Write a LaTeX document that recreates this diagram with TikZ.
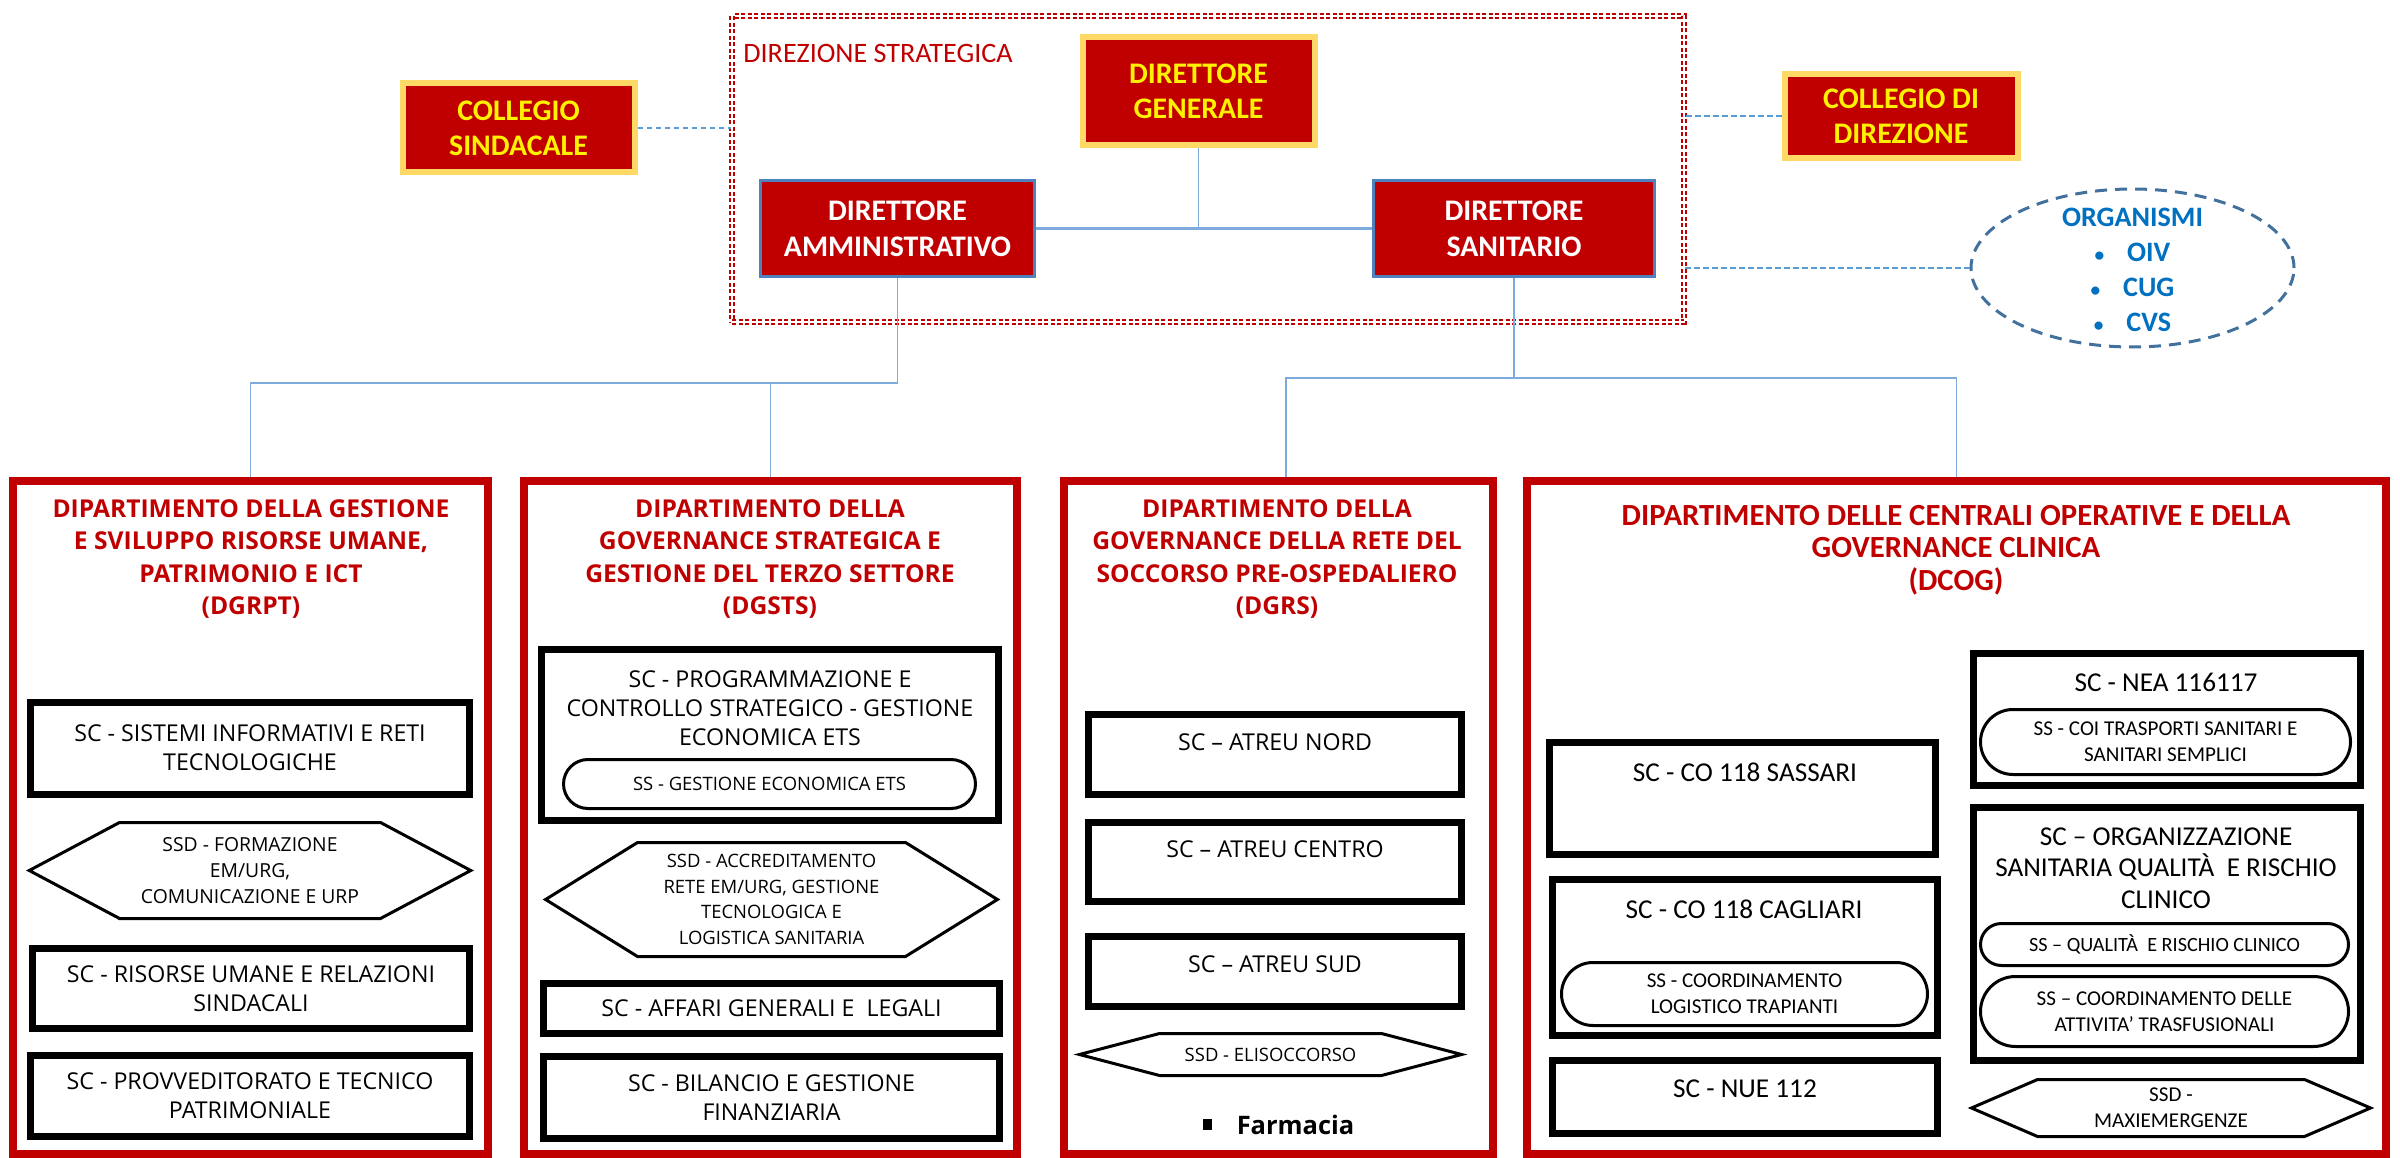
\documentclass[tikz,border=0pt]{standalone}
\usepackage{fontspec}
\setmainfont{Open Sans}
\newfontfamily\calibri{Carlito}
\usepackage{tikz}
\usetikzlibrary{fit,shapes.geometric,shapes.symbols,shapes.misc}

\definecolor{deepred}{HTML}{C00000}
\definecolor{goldframe}{HTML}{FFD966}
\definecolor{dirblue}{HTML}{4F81BD}
\definecolor{linkblue}{HTML}{7FAADC}
\definecolor{dashblue}{HTML}{5B9BD5}
\definecolor{orgline}{HTML}{41719C}
\definecolor{orgtext}{HTML}{0070C0}

\tikzset{
  topbox/.style={fill=deepred, draw=goldframe, line width=1.2mm, inner sep=0pt, align=center, text=yellow,
    font=\calibri\bfseries\fontsize{17}{20}\selectfont},
  dirbox/.style={fill=deepred, draw=dirblue, line width=0.6mm, inner sep=0pt, align=center, text=white,
    font=\calibri\bfseries\fontsize{17}{20.5}\selectfont},
  strategic/.style={draw=deepred, line width=0.4mm, double=white, double distance=0.4mm,
    dash pattern=on 0.8mm off 0.5mm, inner sep=0pt},
  orgellipse/.style={ellipse, draw=orgline, line width=0.6mm, dash pattern=on 2.4mm off 1.6mm, inner sep=0pt},
  orgtext/.style={inner sep=0pt, align=center, text=orgtext, font=\calibri\bfseries\fontsize{16}{20}\selectfont},
  conn/.style={draw=linkblue, line width=0.35mm},
  dashconn/.style={draw=dashblue, line width=0.4mm, dash pattern=on 1.1mm off 0.7mm},
  deptframe/.style={draw=deepred, line width=1.6mm, inner sep=0pt},
  depttitle/.style={text=deepred, inner sep=0pt, align=center, font=\bfseries\fontsize{14}{18.4}\selectfont},
  scbox/.style={draw, line width=1.4mm, inner sep=0pt, align=center, font=\fontsize{13.2}{16.5}\selectfont},
  sctext/.style={inner sep=0pt, align=center, font=\fontsize{13.2}{16.5}\selectfont},
  ssdhex/.style={signal, signal to=west and east, draw, line width=0.6mm, inner sep=0pt},
  ssoval/.style={rounded rectangle, draw, line width=0.6mm, inner sep=0pt},
  sstext/.style={inner sep=0pt, align=center, font=\fontsize{10.5}{14.6}\selectfont},
  d4font/.style={font=\calibri\fontsize{15.5}{18}\selectfont},
  d4small/.style={font=\calibri\fontsize{12}{14.8}\selectfont},
}

\newcommand{\orgdot}{{\fontsize{11}{11}\selectfont\textbullet}\hspace{13pt}}

\begin{document}
\begin{tikzpicture}[x=0.2mm, y=-0.2mm]
\useasboundingbox (0,0) rectangle (2400,1158);

% direzione strategica
\node[strategic, fit={(732,16) (1684,322)}] (dirstrat) {};
\node[anchor=base west, inner sep=0pt, text=deepred, font=\calibri\fontsize{16}{19}\selectfont] (dirlabel) at (743,63) {DIREZIONE STRATEGICA};

\node[topbox, minimum width=46.4mm, minimum height=21.6mm] (dg) at (1198.5,91.5) {DIRETTORE\\GENERALE};
\node[dirbox, minimum width=54.8mm, minimum height=19.2mm] (da) at (897.5,228.5) {DIRETTORE\\AMMINISTRATIVO};
\node[dirbox, minimum width=56.2mm, minimum height=19.2mm] (ds) at (1514,228.5) {DIRETTORE\\SANITARIO};

% collegi e organismi
\node[topbox, minimum width=46.4mm, minimum height=17.8mm] (cs) at (518.5,128) {COLLEGIO\\SINDACALE};
\node[topbox, minimum width=46.6mm, minimum height=16.8mm] (cd) at (1901,116.5) {COLLEGIO DI\\DIREZIONE};
\node[orgellipse, minimum width=64.6mm, minimum height=31.6mm] (org) at (2132.5,268) {};
\node[orgtext] (orgtxt) at (2132.5,270) {ORGANISMI\\ \orgdot OIV\\ \orgdot CUG\\ \orgdot CVS};

% dipartimenti
\node[deptframe, fit={(13,481) (488,1154)}] (dep1) {};
\node[deptframe, fit={(524,481) (1017,1154)}] (dep2) {};
\node[deptframe, fit={(1064,481) (1493,1154)}] (dep3) {};
\node[deptframe, fit={(1527,481) (2386,1154)}] (dep4) {};

\node[depttitle] (dep1title) at (251,559) {DIPARTIMENTO DELLA GESTIONE\\E SVILUPPO RISORSE UMANE,\\PATRIMONIO E ICT\\(DGRPT)};
\node[depttitle] (dep2title) at (770,559) {DIPARTIMENTO DELLA\\GOVERNANCE STRATEGICA E\\GESTIONE DEL TERZO SETTORE\\(DGSTS)};
\node[depttitle] (dep3title) at (1277,559) {DIPARTIMENTO DELLA\\GOVERNANCE DELLA RETE DEL\\SOCCORSO PRE-OSPEDALIERO\\(DGRS)};
\node[depttitle, font=\calibri\bfseries\fontsize{17.5}{18.4}\selectfont] (dep4title) at (1956,550) {DIPARTIMENTO DELLE CENTRALI OPERATIVE E DELLA\\GOVERNANCE CLINICA\\(DCOG)};

% DGRPT
\node[scbox, minimum width=87.8mm, minimum height=18.4mm] (sc11) at (250,748) {SC - SISTEMI INFORMATIVI E RETI\\TECNOLOGICHE};
\node[ssdhex, signal pointer angle=56, fit={(119.5,822.5) (380.5,918.5)}] (ssd11) {};
\node[sstext, font=\fontsize{11}{15}\selectfont] (ssd11txt) at (ssd11.center) {SSD - FORMAZIONE\\EM/URG,\\COMUNICAZIONE E URP};
\node[scbox, minimum width=87.4mm, minimum height=16mm] (sc12) at (251,988.5) {SC - RISORSE UMANE E RELAZIONI\\SINDACALI};
\node[scbox, minimum width=87.8mm, minimum height=16.2mm] (sc13) at (250,1096) {SC - PROVVEDITORATO E TECNICO\\PATRIMONIALE};

% DGSTS
\node[scbox, fit={(541.5,649.5) (998.5,820.5)}] (sc21) {};
\node[sctext] (sc21txt) at (770,708) {SC - PROGRAMMAZIONE E\\CONTROLLO STRATEGICO - GESTIONE\\ECONOMICA ETS};
\node[ssoval, fit={(588,759.5) (951,808.5)}] (ss21) {};
\node[sstext] (ss21txt) at (ss21.center) {SS - GESTIONE ECONOMICA ETS};
\node[ssdhex, signal pointer angle=63.6, fit={(637.5,842.5) (905.5,956.5)}] (ssd21) {};
\node[sstext] (ssd21txt) at (ssd21.center) {SSD - ACCREDITAMENTO\\RETE EM/URG, GESTIONE\\TECNOLOGICA E\\LOGISTICA SANITARIA};
\node[scbox, minimum width=91.2mm, minimum height=10mm] (sc22) at (771.5,1008.5) {SC - AFFARI GENERALI E\ \ LEGALI};
\node[scbox, minimum width=91.2mm, minimum height=16.4mm] (sc23) at (771.5,1097.5) {SC - BILANCIO E GESTIONE\\FINANZIARIA};

% DGRS
\node[scbox, fit={(1088.5,714.5) (1461.5,794.5)}] (sc31) {};
\node[sctext] (sc31txt) at (1275,742) {SC – ATREU NORD};
\node[scbox, fit={(1088.5,822.5) (1461.5,901.5)}] (sc32) {};
\node[sctext] (sc32txt) at (1275,849) {SC – ATREU CENTRO};
\node[scbox, fit={(1088.5,936.5) (1461.5,1006.5)}] (sc33) {};
\node[sctext] (sc33txt) at (1275,964) {SC – ATREU SUD};
\node[ssdhex, signal pointer angle=29.4, fit={(1159.5,1033.5) (1381.5,1075.5)}] (ssd31) {};
\node[sstext] (ssd31txt) at (ssd31.center) {SSD - ELISOCCORSO};
\node[anchor=base west, inner sep=0pt, font=\bfseries\fontsize{14.5}{17}\selectfont] (farmacia) at (1203,1134) {\raisebox{2.3pt}{\rule{5pt}{6pt}}\hspace{14pt}Farmacia};

% DCOG
\node[scbox, fit={(1549.5,742.5) (1935.5,854.5)}] (sc41) {};
\node[sctext, d4font] (sc41txt) at (1745,772) {SC - CO 118 SASSARI};
\node[scbox, fit={(1552.5,879.5) (1937.5,1035.5)}] (sc42) {};
\node[sctext, d4font] (sc42txt) at (1744,909) {SC - CO 118 CAGLIARI};
\node[ssoval, fit={(1593,962.5) (1896,1025.5)}] (ss41) {};
\node[sstext, d4small] (ss41txt) at (ss41.center) {SS - COORDINAMENTO\\LOGISTICO TRAPIANTI};
\node[scbox, fit={(1552.5,1060.5) (1937.5,1133.5)}] (sc43) {};
\node[sctext, d4font] (sc43txt) at (1745,1089) {SC - NUE 112};
\node[scbox, fit={(1973.5,653.5) (2360.5,785.5)}] (sc44) {};
\node[sctext, d4font] (sc44txt) at (2166,682) {SC - NEA 116117};
\node[ssoval, fit={(2013,709.5) (2318,774.5)}] (ss42) {};
\node[sstext, d4small] (ss42txt) at (ss42.center) {SS - COI TRASPORTI SANITARI E\\SANITARI SEMPLICI};
\node[scbox, fit={(1973.5,807.5) (2360.5,1060.5)}] (sc45) {};
\node[sctext, d4font] (sc45txt) at (2166,868) {SC – ORGANIZZAZIONE\\SANITARIA QUALITÀ\ \ E RISCHIO\\CLINICO};
\node[ssoval, fit={(2001.5,923.5) (2327.5,965.5)}] (ss43) {};
\node[sstext, font=\calibri\fontsize{11.5}{14}\selectfont] (ss43txt) at (ss43.center) {SS – QUALITÀ\ \ E RISCHIO CLINICO};
\node[ssoval, fit={(2015.5,976.5) (2313.5,1046.5)}] (ss44) {};
\node[sstext, d4small] (ss44txt) at (ss44.center) {SS – COORDINAMENTO DELLE\\ATTIVITA’ TRASFUSIONALI};
\node[ssdhex, signal pointer angle=46.7, fit={(2037.5,1079.5) (2304.5,1136.5)}] (ssd41) {};
\node[sstext, d4small] (ssd41txt) at (ssd41.center) {SSD -\\MAXIEMERGENZE};

% connessioni
\draw[conn, line width=0.6mm] (da) -- (ds);
\draw[conn] (dg) -- (dg |- da);
\draw[conn] (da.south) -- ++(0,105) coordinate (abus);
\draw[conn] (abus) -| (dep1.north);
\draw[conn] (abus -| dep2.north) -- (dep2.north);
\draw[conn] (ds.south) -- ++(0,100) coordinate (sbus);
\coordinate (dep3top) at ([xshift=1.5mm]dep3.north);
\draw[conn] (dep3top) |- (sbus) -| (dep4.north);
\draw[dashconn] (cs) -- (cs -| dirstrat.west);
\draw[dashconn] (cd) -- (cd -| dirstrat.east);
\draw[dashconn] (org) -- (org -| dirstrat.east);
\end{tikzpicture}
\end{document}
